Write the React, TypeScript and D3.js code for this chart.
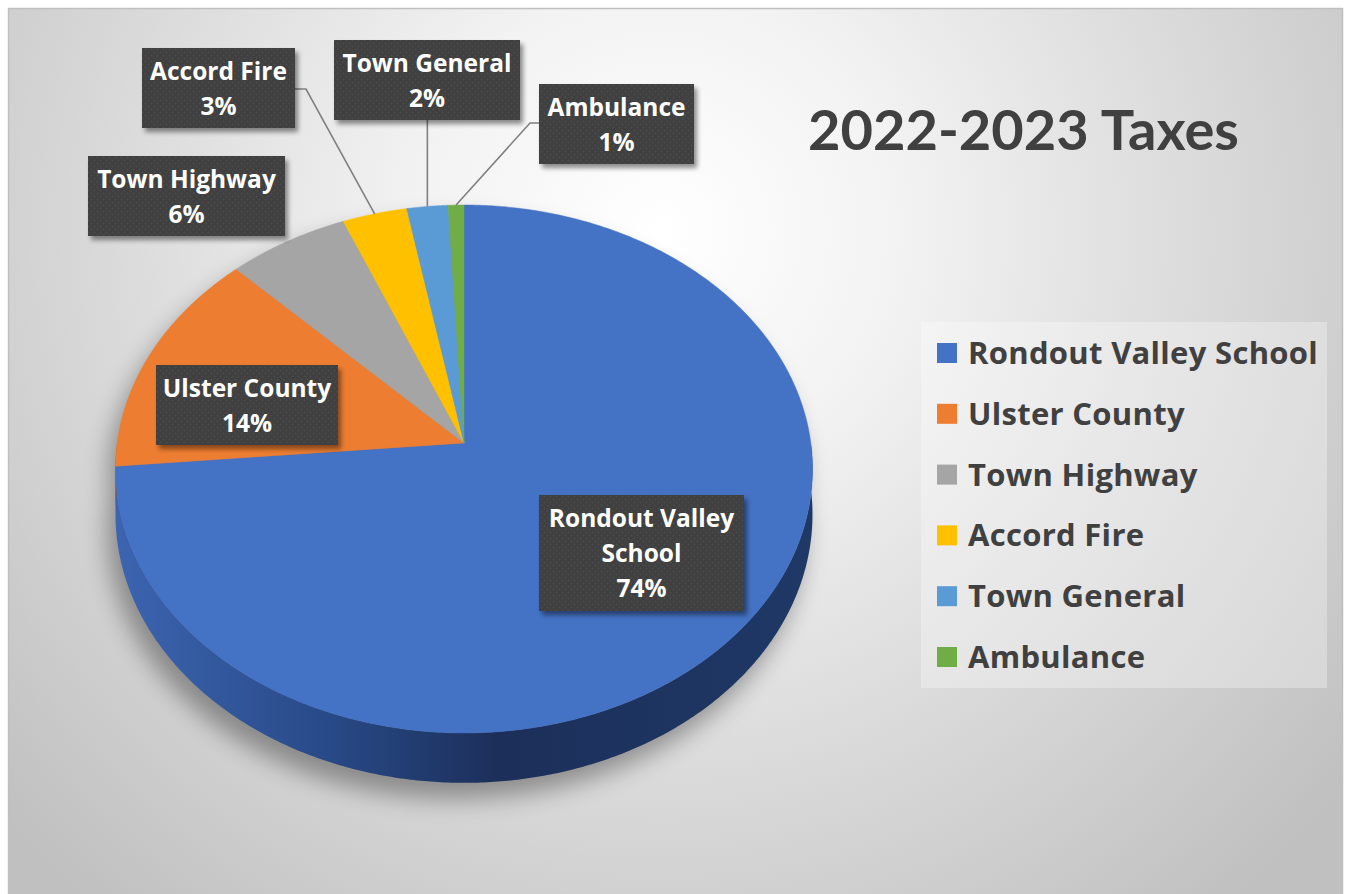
import React from 'react';
import * as d3 from 'd3';

// 2022-2023 tax shares (percent)
const categories = ['Rondout Valley School', 'Ulster County', 'Town Highway', 'Accord Fire', 'Town General', 'Ambulance'];
const shares = [73.6, 14.0, 6.2, 3.3, 2.1, 0.8];
const colors = ['#4472c4', '#ed7d31', '#a5a5a5', '#ffc000', '#5b9bd5', '#70ad47'];
const labelLines = [['Rondout Valley', 'School'], ['Ulster County'], ['Town Highway'], ['Accord Fire'], ['Town General'], ['Ambulance']];
const title = '2022-2023 Taxes';

const W = 1347;
const H = 894;

// 3D pie projection
const CX = 464, CY = 443, RX = 346.8, RY = 261.4, K = 0.0984, DEPTH = 45;

function proj(theta: number, drop = 0): [number, number] {
  const u = Math.sin(theta);
  const v = -Math.cos(theta);
  const s = 1 / (1 - K * v);
  return [CX + RX * u * s, CY + RY * v * s + drop * s];
}

function rim(a0: number, a1: number, drop = 0) {
  const n = Math.max(2, Math.ceil(((a1 - a0) * 180) / Math.PI / 0.5));
  return d3.range(n + 1).map(i => proj(a0 + ((a1 - a0) * i) / n, drop));
}

// label boxes (layout)
const boxes = [
  { x: 539, y: 495, w: 205, h: 116 },
  { x: 156, y: 365, w: 182, h: 80 },
  { x: 88, y: 156, w: 197, h: 80 },
  { x: 142, y: 48, w: 153, h: 80 },
  { x: 334, y: 40, w: 186, h: 80 },
  { x: 539, y: 84, w: 155, h: 80 },
];
// leader: [elbow, box attach]
const leaders: ([number, number][] | null)[] = [
  null,
  null,
  null,
  [[306, 89], [295, 89]],
  [[0, 120]],
  [[530, 123], [539, 123]],
];

const labelFont = "'Open Sans', Lato, sans-serif";

export default function App() {
  const arcs = d3.pie<number>().sort(null).value(d => d)(shares);
  const line = d3.line();
  const pct = (v: number) => `${Math.round(v)}%`;

  const legendY = d3.scalePoint<string>().domain(categories).range([353, 657]);

  const topPaths = arcs.map(a => {
    const pts = [[CX, CY] as [number, number], ...rim(a.startAngle, a.endAngle)];
    return line(pts) + 'Z';
  });

  const sidePaths = arcs.map(a => {
    const s0 = Math.max(a.startAngle, Math.PI / 2);
    const s1 = Math.min(a.endAngle, (3 * Math.PI) / 2);
    if (s1 <= s0) return null;
    const top = rim(s0, s1);
    const bot = rim(s0, s1, DEPTH).reverse();
    return line([...top, ...bot]) + 'Z';
  });

  const silhouette = line([...rim(-Math.PI / 2, Math.PI / 2), ...rim(Math.PI / 2, (3 * Math.PI) / 2, DEPTH)]) + 'Z';

  return (
    <svg width={W} height={H} style={{ position: 'absolute', left: 0, top: 0 }} fontFamily="Lato, 'Open Sans', sans-serif">
      <defs>
        <radialGradient id="bg" gradientUnits="userSpaceOnUse" cx={660} cy={230} r={880}>
          <stop offset="0" stopColor="#ffffff" />
          <stop offset="0.28" stopColor="#f2f2f2" />
          <stop offset="0.65" stopColor="#d8d8d8" />
          <stop offset="1" stopColor="#c0c0c0" />
        </radialGradient>
        <linearGradient id="side" gradientUnits="userSpaceOnUse" x1={CX - RX} x2={CX + RX} y1={0} y2={0}>
          <stop offset="0" stopColor="#3c64b0" />
          <stop offset="0.3" stopColor="#284a88" />
          <stop offset="0.55" stopColor="#1c2f5a" />
          <stop offset="1" stopColor="#1f3866" />
        </linearGradient>
        <filter id="pieShadow" x="-20%" y="-20%" width="140%" height="150%">
          <feGaussianBlur stdDeviation="12" />
        </filter>
        <filter id="boxShadow" x="-10%" y="-10%" width="130%" height="130%">
          <feGaussianBlur in="SourceAlpha" stdDeviation="2.5" />
          <feOffset dx="3" dy="4" result="b" />
          <feComponentTransfer>
            <feFuncA type="linear" slope="0.45" />
          </feComponentTransfer>
          <feMerge>
            <feMergeNode />
            <feMergeNode in="SourceGraphic" />
          </feMerge>
        </filter>
        <pattern id="dots" width="6" height="6" patternUnits="userSpaceOnUse">
          <rect width="6" height="6" fill="#3f3f3f" />
          <circle cx="1.5" cy="1.5" r="1" fill="#4a4a4a" />
          <circle cx="4.5" cy="4.5" r="1" fill="#4a4a4a" />
        </pattern>
      </defs>

      <rect x={0} y={0} width={W} height={H} fill="#ffffff" />
      <rect x={8.5} y={8.5} width={1334} height={H} fill="url(#bg)" stroke="#bfbfbf" strokeWidth={1.5} />

      {/* pie shadow */}
      <path d={silhouette} transform="translate(-8,16)" fill="#000" opacity={0.35} filter="url(#pieShadow)" />

      {/* sides */}
      {sidePaths.map((d, i) =>
        d ? <path key={`s${i}`} d={d} fill={i === 0 ? 'url(#side)' : d3.color(colors[i])!.darker(1.2).toString()} /> : null
      )}

      {/* top faces */}
      {topPaths.map((d, i) => (
        <path key={`t${i}`} d={d} fill={colors[i]} stroke={colors[i]} strokeWidth={0.5} />
      ))}

      {/* leader lines */}
      {arcs.map((a, i) => {
        const l = leaders[i];
        if (!l) return null;
        const p = proj((a.startAngle + a.endAngle) / 2);
        const pts: [number, number][] = [p, ...l.map(q => [q[0] === 0 ? p[0] : q[0], q[1]] as [number, number])];
        return <path key={`l${i}`} d={line(pts)!} fill="none" stroke="#808080" strokeWidth={1.6} />;
      })}

      {/* data labels */}
      {boxes.map((b, i) => {
        const lines = [...labelLines[i], pct(shares[i])];
        const cx = b.x + b.w / 2;
        const y0 = b.y + b.h / 2 - ((lines.length - 1) * 35) / 2 + 9;
        return (
          <g key={`b${i}`}>
            <rect x={b.x} y={b.y} width={b.w} height={b.h} fill="url(#dots)" filter="url(#boxShadow)" />
            {lines.map((t, j) => (
              <text key={j} x={cx} y={y0 + j * 35} textAnchor="middle" fill="#ffffff" fontSize={24.5} fontWeight="bold" fontFamily={labelFont}>
                {t}
              </text>
            ))}
          </g>
        );
      })}

      {/* title */}
      <text x={808} y={150} fill="#404040" fontSize={56} fontWeight="bold">
        {title}
      </text>

      {/* legend */}
      <rect x={921} y={322} width={406} height={366} fill="#ffffff" opacity={0.3} />
      {categories.map((c, i) => (
        <g key={`g${i}`} transform={`translate(937,${legendY(c)})`}>
          <rect x={0} y={-10} width={20} height={20} fill={colors[i]} />
          <text x={31} y={11} fill="#404040" fontSize={31} fontWeight="bold" fontFamily={labelFont} letterSpacing={0.3}>
            {c}
          </text>
        </g>
      ))}
    </svg>
  );
}
